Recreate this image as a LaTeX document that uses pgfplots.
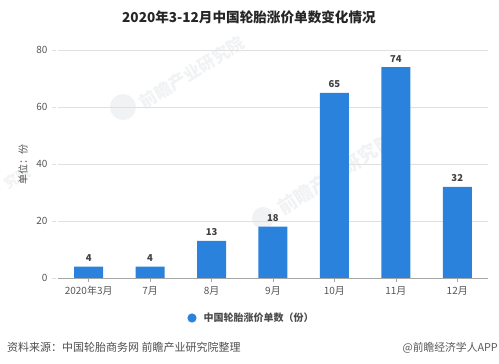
\documentclass[border=0pt]{standalone}
\usepackage{pgfplots}
\pgfplotsset{compat=1.18}
\usepackage{fontspec}
\setmainfont{Noto Sans CJK SC}
\definecolor{barblue}{HTML}{2B82DC}
\definecolor{txt}{HTML}{555555}
\definecolor{wm}{HTML}{F0F2F4}
\begin{document}
\begin{tikzpicture}
\path[use as bounding box] (0pt,0pt) rectangle (499pt,364pt);
% watermarks
\node[wm,font=\bfseries\fontsize{17}{17}\selectfont,rotate=32] at (192pt,291pt) {前瞻产业研究院};
\fill[wm] (123pt,257pt) circle (13pt);
\node[wm,font=\bfseries\fontsize{14}{14}\selectfont,rotate=32] at (18pt,186pt) {究院};
\node[wm,font=\bfseries\fontsize{19}{19}\selectfont,rotate=32] at (336pt,190pt) {前瞻产业研究院};
\fill[wm] (263pt,146pt) circle (11pt);
\begin{axis}[
  at={(58pt,86pt)},anchor=south west,scale only axis,width=430pt,height=228pt,
  xmin=-0.5,xmax=6.5,ymin=0,ymax=80,
  ybar,bar width=29pt,
  axis x line=bottom,axis y line=left,
  x axis line style={-,draw=black!35,line width=0.8pt},
  y axis line style={draw=none},
  xtick={0,1,2,3,4,5,6},
  xticklabels={2020年3月,7月,8月,9月,10月,11月,12月},
  ytick={0,20,40,60,80},
  ymajorgrids,
  grid style={draw=black!12,line width=0.8pt},
  xtick align=outside,ytick align=outside,
  xtick pos=bottom,
  major tick length=4pt,
  x tick style={draw=black!35,line width=0.6pt},
  y tick style={draw=black!12,line width=0.8pt,xshift=-2pt},
  tick label style={font=\fontsize{10}{11}\selectfont,text=txt},
  /pgf/number format/assume math mode=true,
  yticklabel style={xshift=-3pt},
  xticklabel style={yshift=-1pt},
  nodes near coords,
  nodes near coords style={font=\bfseries\fontsize{9.5}{10}\selectfont,text=black!75,yshift=1.5pt,/pgf/number format/assume math mode=true},
]
\addplot[fill=barblue,draw=none]
  coordinates {(0,4)(1,4)(2,13)(3,18)(4,65)(5,74)(6,32)};
\end{axis}
\node[font=\bfseries\fontsize{13.6}{14}\selectfont,text=black!85] at (249pt,347pt) {2020年3-12月中国轮胎涨价单数变化情况};
\node[txt,rotate=90,font=\fontsize{10}{11}\selectfont] at (23pt,199pt) {单位：份};
\fill[barblue] (192pt,46pt) circle (4.6pt);
\node[anchor=west,text=black!70,font=\bfseries\fontsize{10}{11}\selectfont] at (200pt,46pt) {中国轮胎涨价单数（份）};
\node[anchor=west,inner sep=0pt,text=black!70,font=\fontsize{11}{12}\selectfont] at (7pt,16.5pt) {资料来源：中国轮胎商务网 前瞻产业研究院整理};
\node[anchor=east,inner sep=0pt,text=black!65,font=\fontsize{10.8}{12}\selectfont] at (498pt,16.5pt) {@前瞻经济学人APP};
\end{tikzpicture}
\end{document}
